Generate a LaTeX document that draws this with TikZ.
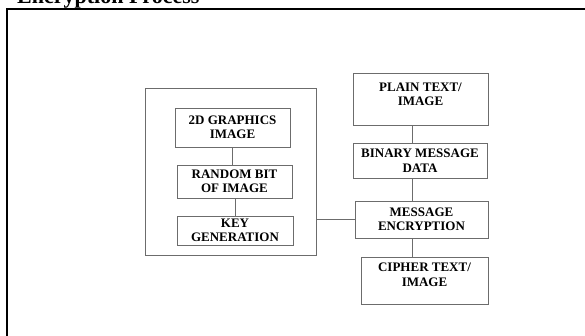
\documentclass[tikz,border=0pt]{standalone}
\usepackage{fontspec}
\setmainfont{Liberation Serif}
\usetikzlibrary{positioning,calc}

\begin{document}
\begin{tikzpicture}[x=1pt,y=-1pt,
  blk/.style={draw=gray!85!black,line width=0.8pt,align=center,inner sep=0pt,
    font=\bfseries\fontsize{13}{14.5}\selectfont},
  link/.style={draw=gray!85!black,line width=0.8pt}]
  \useasboundingbox (0,0) rectangle (585,335);
  % title, cut off by the page edge
  \node[anchor=base west,inner sep=0pt,font=\bfseries\fontsize{22}{24}\selectfont] (title) at (17,3) {Encryption Process};
  \draw[line width=2pt] (7,340) -- (7,8.5) -- (590,8.5);

  % key side
  \node[draw=gray!85!black,line width=0.8pt,minimum width=171pt,minimum height=167pt] (outer) at (230.5,171.5) {};
  \node[blk,minimum width=115pt,minimum height=39pt] (graphics) at (232.5,127.5) {2D GRAPHICS\\IMAGE};
  \node[blk,minimum width=115pt,minimum height=33pt] (randbit) at (234.5,181.5) {RANDOM BIT\\OF IMAGE};
  \node[blk,minimum width=116pt,minimum height=29pt] (keygen) at (235,230.5) {KEY\\GENERATION};

  % message side
  \coordinate (spine) at (412,0);
  \node[blk,minimum width=135pt,minimum height=52pt,text depth=10pt] (plain) at (420.5,99) {PLAIN TEXT/\\IMAGE};
  \node[blk,minimum width=134pt,minimum height=35pt] (binary) at (420,160.5) {BINARY MESSAGE\\DATA};
  \node[blk,minimum width=133pt,minimum height=37pt] (encrypt) at (421.5,219.5) {MESSAGE\\ENCRYPTION};
  \node[blk,minimum width=127pt,minimum height=47pt,text depth=12pt] (cipher) at (424.5,280.5) {CIPHER TEXT/\\IMAGE};

  \draw[link] (graphics.south) -- (graphics.south |- randbit.north);
  \draw[link] (keygen.north) -- (keygen.north |- randbit.south);
  \draw[link] (plain.south -| spine) -- (binary.north -| spine);
  \draw[link] (binary.south -| spine) -- (encrypt.north -| spine);
  \draw[link] (encrypt.south -| spine) -- (cipher.north -| spine);
  \draw[link] (outer.east |- encrypt.west) -- (encrypt.west);
\end{tikzpicture}
\end{document}
